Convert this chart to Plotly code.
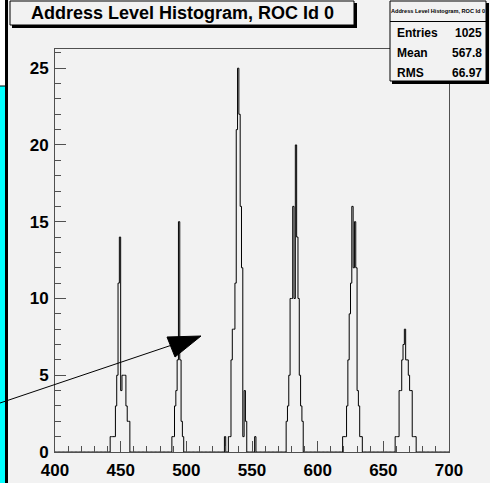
import numpy as np
import plotly.graph_objects as go

# ---- data (address level -> entries, non-empty bins, bin width 1) ----
peak1_addr = [442, 443, 444, 445, 446, 447, 448, 449, 450, 451, 452, 453, 454, 455, 456]
peak1_cnt  = [1,   1,   1,   1,   3,   5,   11,  14,  4,   5,   5,   5,   3,   2,   2]
peak2_addr = [489, 490, 491, 492, 493, 494, 495, 496, 497]
peak2_cnt  = [1,   1,   3,   4,   6,   15,  6,   2,   1]
peak3_addr = [529, 532, 533, 534, 535, 536, 537, 538, 539, 540, 541, 542, 543, 544, 545, 552]
peak3_cnt  = [1,   1,   1,   6,   8,   8,   11,  21,  25,  22,  16,  12,  1,   4,   2,   1]
peak4_addr = [576, 577, 578, 579, 580, 581, 582, 583, 584, 585, 586, 587, 588]
peak4_cnt  = [2,   3,   5,   10,  10,  16,  10,  20,  14,  10,  5,   3,   2]
peak5_addr = [619, 620, 621, 622, 623, 624, 625, 626, 627, 628, 629, 630, 631, 632, 633]
peak5_cnt  = [1,   1,   1,   3,   6,   9,   11,  16,  12,  15,  12,  4,   3,   1,   1]
peak6_addr = [659, 660, 661, 662, 663, 664, 665, 666, 667, 668, 669, 670, 671, 672, 673, 674]
peak6_cnt  = [1,   1,   1,   4,   4,   6,   7,   8,   6,   6,   5,   4,   4,   1,   1,   1]

x_min, x_max = 400, 700
x_ticks = [400, 450, 500, 550, 600, 650, 700]
y_ticks = [0, 5, 10, 15, 20, 25]

title_text = "Address Level Histogram, ROC Id 0"
stat_labels = ["Entries", "Mean", "RMS"]
stat_values = ["1025", "567.8", "66.97"]

# ---- build histogram ----
edges = np.arange(x_min, x_max + 1)
counts = np.zeros(len(edges) - 1)
for addrs, cnts in [(peak1_addr, peak1_cnt), (peak2_addr, peak2_cnt), (peak3_addr, peak3_cnt),
                    (peak4_addr, peak4_cnt), (peak5_addr, peak5_cnt), (peak6_addr, peak6_cnt)]:
    for a, c in zip(addrs, cnts):
        counts[a - x_min] = c
step_y = np.append(counts, counts[-1])

W, H = 490, 483
L, R, T, B = 55, 41, 49, 31
PW, PH = W - L - R, H - T - B
BG = "#f2f2f2"
FONT = "Liberation Sans"

def px(x):
    return (x - L) / PW

def py(y):
    return (H - B - y) / PH

fig = go.Figure()
fig.add_trace(go.Scatter(x=edges, y=step_y, mode="lines", line=dict(shape="hv", color="black", width=1),
                         hoverinfo="skip", showlegend=False))

shapes = []
def rect(x0, y0, x1, y1, fill, line_color=None, lw=0):
    shapes.append(dict(type="rect", xref="paper", yref="paper", x0=px(x0), x1=px(x1), y0=py(y1), y1=py(y0),
                       fillcolor=fill, line=dict(color=line_color or fill, width=lw), layer="above"))

def line(x0, y0, x1, y1, color="black", lw=1):
    shapes.append(dict(type="line", xref="paper", yref="paper", x0=px(x0), x1=px(x1), y0=py(y0), y1=py(y1),
                       line=dict(color=color, width=lw), layer="above"))

# left decorations
rect(0, 0, 5, 86, "white")
rect(0, 86, 5, 483, "#00ffff")
line(0, 86, 5, 86, "black", 1)
rect(5, 0, 8, 483, "black")

# title box with shadow
rect(10, 1, 354, 25, BG, "black", 1)
rect(354, 3, 357, 28, "black")
rect(12, 25, 357, 28, "black")

# stats box with shadow
rect(390, 1, 486, 81, BG, "black", 1)
rect(486, 3, 489, 84, "black")
rect(392, 81, 489, 84, "black")
line(390, 21.5, 486, 21.5, "black", 1)

# arrow
line(0, 403, 172, 345, "black", 1)
shapes.append(dict(type="path", xref="paper", yref="paper",
                   path=f"M {px(167)},{py(337)} L {px(201)},{py(336)} L {px(175)},{py(357)} Z",
                   fillcolor="black", line=dict(color="black", width=1), layer="above"))

annotations = [
    dict(xref="paper", yref="paper", x=px(182), y=py(13.5), text=f"<b>{title_text}</b>", showarrow=False,
         font=dict(family=FONT, size=18, color="black"), xanchor="center", yanchor="middle"),
    dict(xref="paper", yref="paper", x=px(438), y=py(11), text=f"<b>{title_text}</b>", showarrow=False,
         font=dict(family=FONT, size=5.6, color="black"), xanchor="center", yanchor="middle"),
]
for i, (lab, val) in enumerate(zip(stat_labels, stat_values)):
    yy = 33.5 + i * 19.5
    annotations.append(dict(xref="paper", yref="paper", x=px(395), y=py(yy), text=f"<b>{lab}</b>",
                            showarrow=False, font=dict(family=FONT, size=12, color="black"),
                            xanchor="left", yanchor="middle"))
    annotations.append(dict(xref="paper", yref="paper", x=px(484), y=py(yy), text=f"<b>{val}</b>",
                            showarrow=False, font=dict(family=FONT, size=12, color="black"),
                            xanchor="right", yanchor="middle"))

axis_color = "#505050"
fig.update_layout(
    width=W, height=H, margin=dict(l=L, r=R, t=T, b=B),
    paper_bgcolor=BG, plot_bgcolor=BG,
    shapes=shapes, annotations=annotations, showlegend=False,
    xaxis=dict(range=[x_min, x_max], tickvals=x_ticks, ticks="inside", ticklen=11, tickcolor=axis_color,
               tickwidth=1, showgrid=False, zeroline=False, showline=True, mirror=True, linecolor=axis_color,
               linewidth=1, tickfont=dict(family=FONT, size=17, color="black", weight="bold"),
               minor=dict(dtick=10, ticks="inside", ticklen=6, tickcolor=axis_color, showgrid=False),
               ticklabelstandoff=3, automargin=False),
    yaxis=dict(range=[0, 26.25], tickvals=y_ticks, ticks="inside", ticklen=11, tickcolor=axis_color,
               tickwidth=1, showgrid=False, zeroline=False, showline=True, mirror=True, linecolor=axis_color,
               linewidth=1, tickfont=dict(family=FONT, size=17, color="black", weight="bold"),
               minor=dict(dtick=1, ticks="inside", ticklen=6, tickcolor=axis_color, showgrid=False),
               ticklabelstandoff=2, automargin=False),
)

fig.write_html("out.html")
